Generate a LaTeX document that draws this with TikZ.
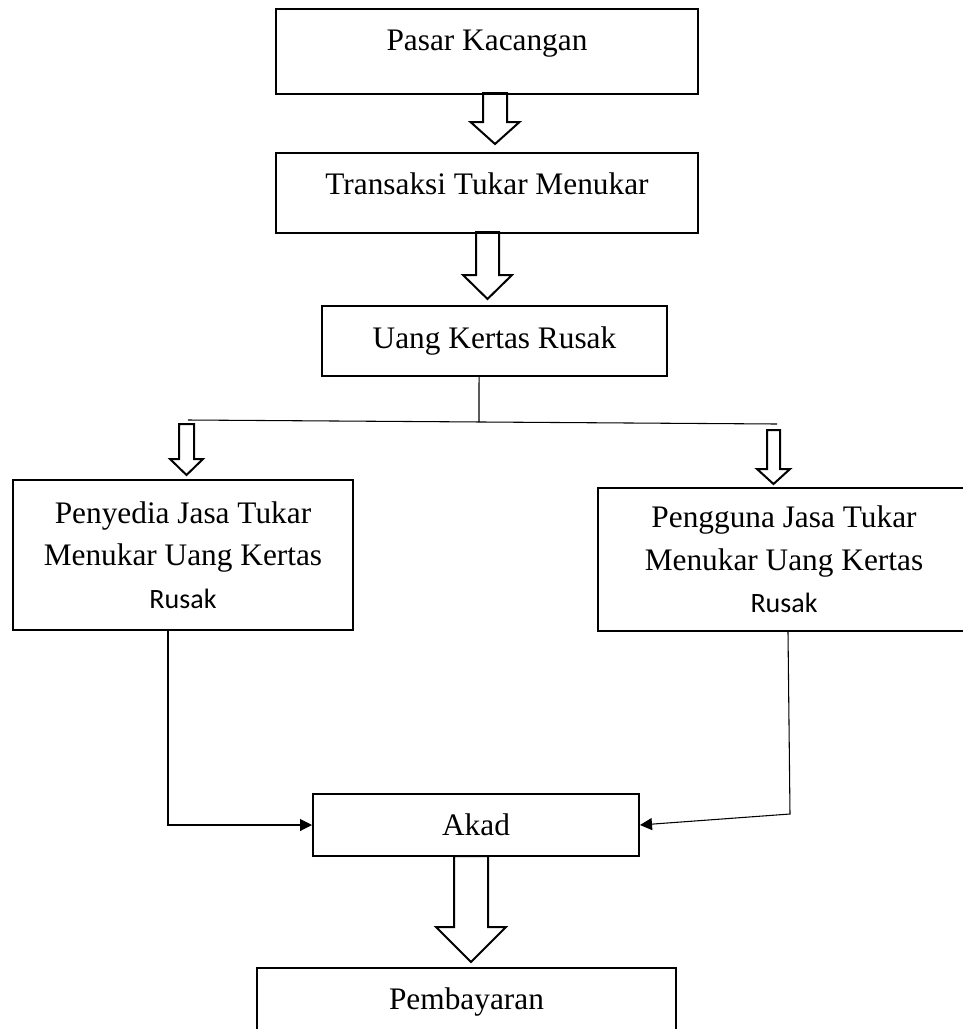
\documentclass[tikz,border=0pt]{standalone}
\usepackage{fontspec}
\setmainfont{Liberation Serif}
\newfontfamily\calibri{Carlito}
\usetikzlibrary{arrows.meta}
\newcommand{\rusakfont}{\calibri\fontsize{21pt}{32pt}\selectfont}
\begin{document}
\begin{tikzpicture}
    [x=0.75pt,y=-0.75pt,
     box/.style={draw,rectangle,line width=1.5pt,font=\fontsize{23.5pt}{32pt}\selectfont},
     topbox/.style={box,anchor=north,inner ysep=0pt,text height=31pt},
     sidebox/.style={box,align=center},
     conn/.style={line width=0.8pt},
     fatarrow/.style={line width=1.5pt,line join=miter}]
    \clip (0,0) rectangle (963,1029);

    \node[topbox,minimum width=316.5pt,text depth=32.75pt] (pasar) at (487,8) {Pasar Kacangan};
    \node[topbox,minimum width=316.5pt,text depth=29.25pt] (transaksi) at (487,152) {Transaksi Tukar Menukar};
    \node[box,minimum width=258.75pt,minimum height=52.5pt] (uang) at (494.5,341) {Uang Kertas Rusak};
    \node[sidebox,minimum width=255pt,minimum height=112.5pt] (penyedia) at (183,555)
      {Penyedia Jasa Tukar\\Menukar Uang Kertas\\{\rusakfont Rusak}};
    \node[sidebox,minimum width=279pt,minimum height=107.25pt] (pengguna) at (784,559.5)
      {Pengguna Jasa Tukar\\Menukar Uang Kertas\\{\rusakfont Rusak}};
    \node[box,minimum width=244.5pt,minimum height=46.5pt] (akad) at (476,825) {Akad};
    \node[topbox,minimum width=314.25pt,text depth=45pt] (bayar) at (466.5,967) {Pembayaran};

    \coordinate (split) at (479,422);
    \coordinate (splitL) at (188,420);
    \coordinate (splitR) at (777,424);

    \foreach \cx/\ya/\yb/\yc/\sw/\hw in {495/93/122/144/12/24.5,
        487.5/232/275/299/11.5/24.5, 186.5/424/459/475/7.5/16.5,
        773.5/430/469/484/6.5/16.5, 471/856/927/962/17/35}
      \draw[fatarrow] (\cx-\sw,\ya) -- (\cx-\sw,\yb) -- (\cx-\hw,\yb) -- (\cx,\yc)
        -- (\cx+\hw,\yb) -- (\cx+\sw,\yb) -- (\cx+\sw,\ya) -- cycle;

    \draw[conn] ([xshift=-11.6pt]uang.south) -- (split);
    \draw[conn] (splitL) -- (splitR);
    \draw[conn,-{Triangle[length=9pt,width=9pt]}] ([xshift=-11.25pt]penyedia.south)
      -- ([xshift=-11.25pt]penyedia.south |- akad.west) -- (akad.west);
    \draw[conn,-{Triangle[length=9pt,width=9pt]}] ([xshift=3pt]pengguna.south)
      -- ++(2,182) -- (akad.east);
\end{tikzpicture}
\end{document}
